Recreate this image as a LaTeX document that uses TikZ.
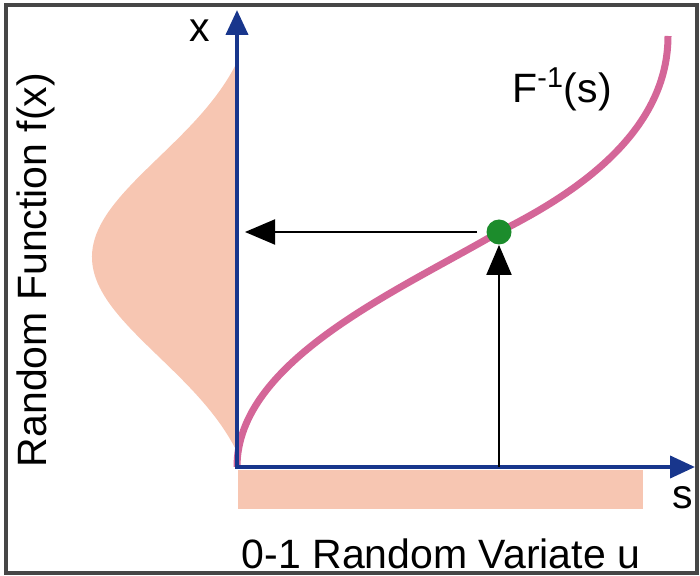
\documentclass[tikz,border=0pt]{standalone}
\usepackage{fontspec}
\setmainfont{Liberation Sans}
\usetikzlibrary{arrows.meta}

\definecolor{axisblue}{RGB}{24,54,140}
\definecolor{curvepink}{RGB}{212,102,152}
\definecolor{densityfill}{RGB}{247,198,178}
\definecolor{dotgreen}{RGB}{28,140,44}
\definecolor{framegray}{RGB}{70,70,70}

\begin{document}
\begin{tikzpicture}[x=0.5pt, y=-0.5pt,
    axis/.style={draw=axisblue, line width=2pt, line cap=rect,
      -{Triangle[length=12.5pt, width=11pt]}},
    pointer/.style={draw=black, line width=1pt,
      -{Triangle[length=15pt, width=12.5pt]}},
    invcurve/.style={draw=curvepink, line width=3.5pt},
    density/.style={fill=densityfill},
    txt/.style={font=\fontsize{20.5}{24}\selectfont, inner sep=0pt}]
        % Page and frame
        \useasboundingbox (0,0) rectangle (700,576);
        \draw[framegray, line width=2pt] (6,5) rectangle (697,573);

        % Key points of the plot
        \coordinate (origin) at (237,467);
        \coordinate (xtip) at (237,10);
        \coordinate (stip) at (695,467);
        \coordinate (dotpos) at (499,232);
        \coordinate (curvetop) at (668,36);
        \coordinate (xhit) at (237,232);
        \coordinate (shit) at (499,467);

        % Density f(x) along the x axis
        \fill[density] (237,60)
          -- plot[domain=60:457, samples=90]
             ({237-145*max(0,exp(-((\x-257)/100)*((\x-257)/100)/2)-0.15)/0.85}, \x)
          -- cycle;

        % Uniform density along the s axis
        \fill[density] (238,470) rectangle (643,509);

        % Inverse distribution function
        \draw[invcurve] (origin) .. controls (237,360) and (400,290) .. (dotpos)
          .. controls (560,201) and (668,140) .. (curvetop);

        % Axes
        \draw[axis] (origin) -- (xtip);
        \draw[axis] (origin) -- (stip);

        % Sampled point
        \node[circle, fill=dotgreen, inner sep=0pt, minimum size=12.5pt] (dot) at (dotpos) {};

        % Mapping u -> x
        \draw[pointer] (shit) -- (dot.south);
        \draw[pointer, shorten <=4.5pt, shorten >=4pt] (dot.west) -- (xhit);

        % Labels
        \node[txt, anchor=base] (xlabel) at (200,42) {x};
        \node[txt, anchor=base] (slabel) at (683,508) {s};
        \node[txt, anchor=base west] (invlabel) at (512,103) {F\textsuperscript{-1}(s)};
        \node[txt, rotate=90, anchor=base] (ylabel) at (46,270) {Random Function f(x)};
        \node[txt, anchor=base] (ulabel) at (441,568) {0-1 Random Variate u};
      \end{tikzpicture}
\end{document}
